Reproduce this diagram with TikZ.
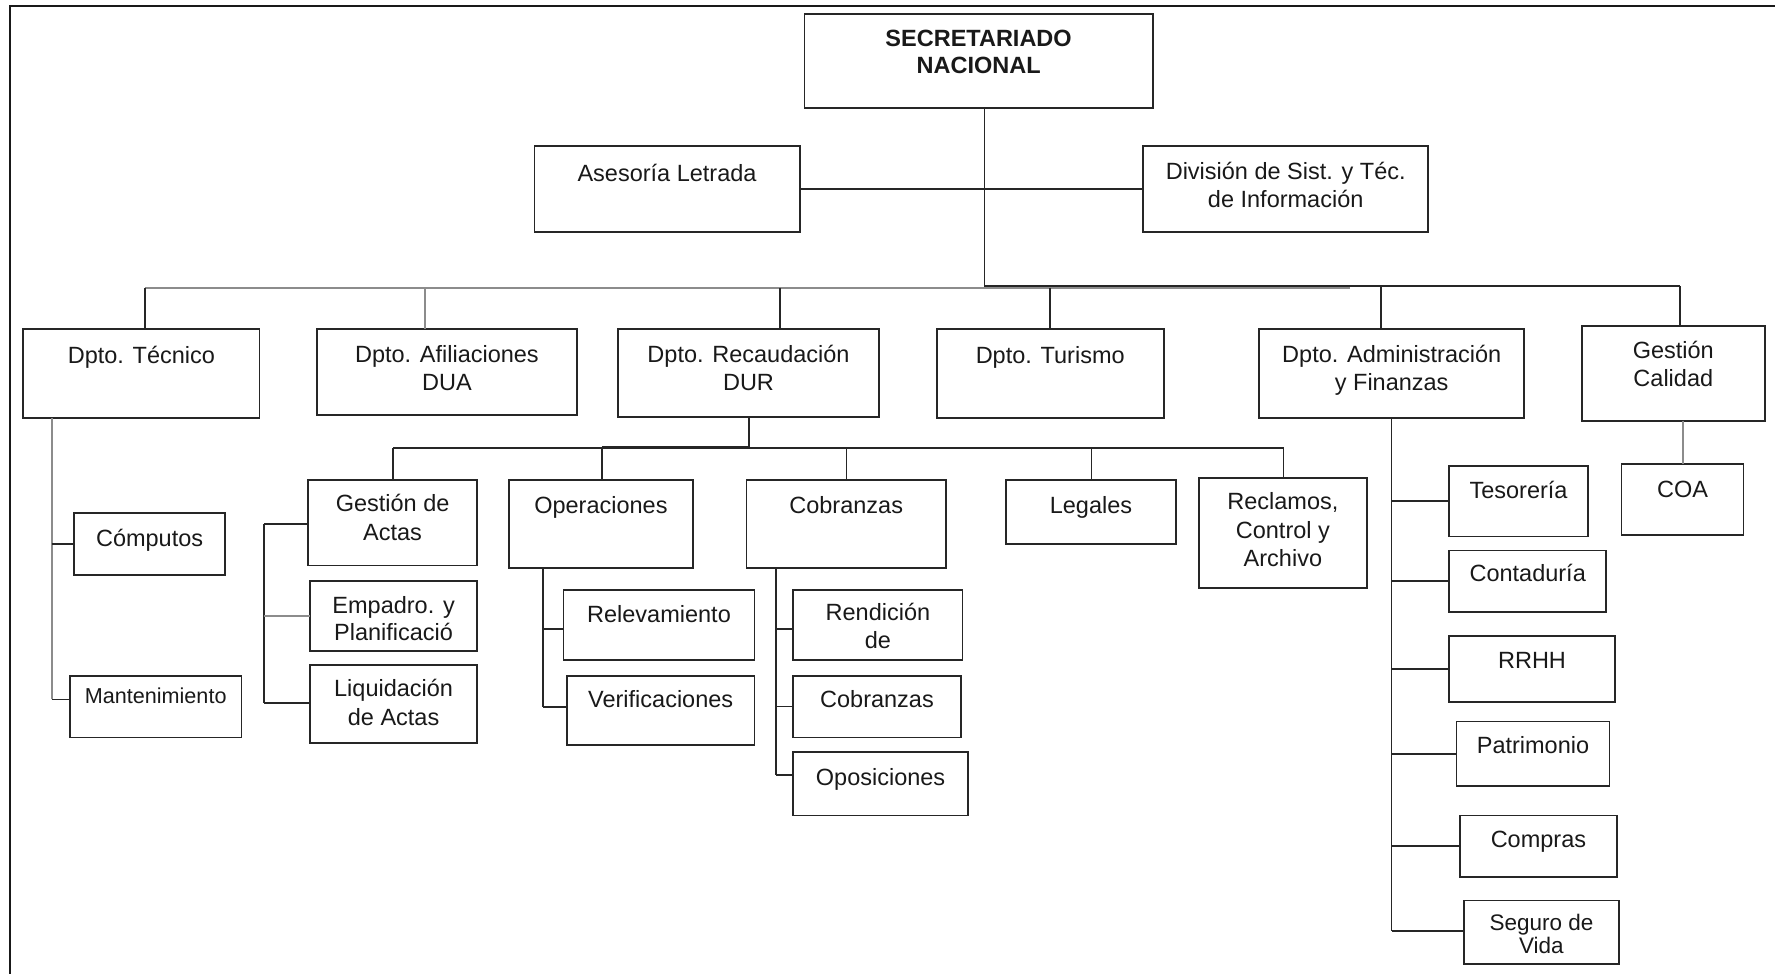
\documentclass[tikz,border=0pt]{standalone}
\usepackage{fontspec}
\setmainfont{Liberation Sans}
\definecolor{ln}{HTML}{262626}
\definecolor{lg}{HTML}{8C8C8C}
\newcommand\orgbox[5]{\node[box,anchor=north west,minimum width={(#4-#2)*1pt},minimum height={(#5-#3)*1pt}] (#1) at (#2,#3) {};}
% labels are placed by the baseline of their last line
\newcommand\orgtext[4]{\node[txt] (#1) at (#2,#3) {#4};}
\begin{document}
\begin{tikzpicture}[x=1pt,y=-1pt,
  box/.style={rectangle,draw=ln,line width=1.8pt,fill=white,inner sep=0pt,outer sep=0pt},
  txt/.style={anchor=base,align=center,inner sep=0pt,text=black!90,font=\fontsize{23.5}{28.5}\selectfont},
  conn/.style={draw=ln,line width=1.8pt},
  gconn/.style={draw=lg,line width=2pt},
  frame/.style={draw=black!90,line width=2.6pt}]
\useasboundingbox (0,0) rectangle (1775,974);
\draw[frame] (10,974) -- (10,6) -- (1775,6);

% boxes
\orgbox{sec}{804.5}{14}{1152.7}{108.3}
\orgbox{ase}{534.4}{146}{799.6}{231.7}
\orgbox{div}{1143.3}{146}{1428.2}{231.7}
\orgbox{tec}{23.3}{329.3}{259.5}{418.3}
\orgbox{afi}{317}{329.3}{576.7}{415}
\orgbox{rec}{617.9}{329.3}{879}{416.7}
\orgbox{tur}{936.6}{329.3}{1163.8}{418.3}
\orgbox{adm}{1259.2}{329.3}{1524.2}{418.3}
\orgbox{cal}{1581.6}{326}{1765}{420.7}
\orgbox{com}{74.2}{512.7}{225}{574.6}
\orgbox{man}{70}{675.6}{241.5}{737.5}
\orgbox{ges}{308}{480.2}{477.2}{565.4}
\orgbox{emp}{310}{581.2}{477.2}{650.7}
\orgbox{liq}{310}{665}{477.2}{743.3}
\orgbox{ope}{508.9}{480.2}{692.9}{567.6}
\orgbox{rel}{563.4}{590.3}{754.5}{659.9}
\orgbox{ver}{567}{675.6}{754.5}{744.8}
\orgbox{cob}{746.4}{480.2}{946}{567.6}
\orgbox{ren}{793.3}{590.3}{962.5}{659.9}
\orgbox{cobb}{793.3}{675.6}{960.7}{737.5}
\orgbox{opo}{793.3}{752.1}{967.9}{815.4}
\orgbox{leg}{1005.8}{480.2}{1176.3}{543.8}
\orgbox{recl}{1199}{478}{1366.8}{587.8}
\orgbox{tes}{1449.3}{465.9}{1587.6}{536.5}
\orgbox{cont}{1449.3}{550.4}{1606}{612.3}
\orgbox{rrhh}{1449.3}{636}{1614.7}{701.6}
\orgbox{pat}{1456.5}{721.4}{1609.5}{786.2}
\orgbox{compr}{1460}{815.4}{1616.7}{877.3}
\orgbox{seg}{1464}{900.4}{1618.7}{964}
\orgbox{coa}{1621.5}{464}{1743.5}{534.7}

% labels
\node[txt,font=\fontsize{23.5}{26.5}\selectfont\bfseries] (sec-t) at (978.6,73.5) {SECRETARIADO\\NACIONAL};
\orgtext{ase-t}{667}{181}{Asesoría Letrada}
\orgtext{div-t}{1285.7}{207.5}{División de Sist. y Téc.\\de Información}
\orgtext{tec-t}{141.4}{363}{Dpto. Técnico}
\orgtext{afi-t}{446.9}{390.5}{Dpto. Afiliaciones\\DUA}
\orgtext{rec-t}{748.5}{390.5}{Dpto. Recaudación\\DUR}
\orgtext{tur-t}{1050.2}{363}{Dpto. Turismo}
\orgtext{adm-t}{1391.7}{390.5}{Dpto. Administración\\y Finanzas}
\orgtext{cal-t}{1673.3}{386.8}{Gestión\\Calidad}
\orgtext{com-t}{149.6}{546.4}{Cómputos}
\node[txt,font=\fontsize{21.6}{26}\selectfont] (man-t) at (155.7,703.8) {Mantenimiento};
\orgtext{ges-t}{392.6}{540.1}{Gestión de\\Actas}
\node[txt,font=\fontsize{23.5}{27.5}\selectfont] (emp-t) at (393.6,640.5) {Empadro. y\\Planificació};
\orgtext{liq-t}{393.6}{725}{Liquidación\\de Actas}
\orgtext{ope-t}{600.9}{513.5}{Operaciones}
\orgtext{rel-t}{659}{622.2}{Relevamiento}
\orgtext{ver-t}{660.7}{707.5}{Verificaciones}
\orgtext{cob-t}{846.2}{513.5}{Cobranzas}
\orgtext{ren-t}{877.9}{648.8}{Rendición\\de}
\orgtext{cobb-t}{877}{707.5}{Cobranzas}
\orgtext{opo-t}{880.6}{785}{Oposiciones}
\orgtext{leg-t}{1091}{513.5}{Legales}
\orgtext{recl-t}{1282.9}{566.8}{Reclamos,\\Control y\\Archivo}
\orgtext{tes-t}{1518.5}{498.1}{Tesorería}
\orgtext{cont-t}{1527.7}{581.2}{Contaduría}
\orgtext{rrhh-t}{1532}{668.3}{RRHH}
\orgtext{pat-t}{1533}{753.2}{Patrimonio}
\orgtext{compr-t}{1538.4}{847.6}{Compras}
\node[txt,font=\fontsize{22.5}{22.7}\selectfont] (seg-t) at (1541.4,953.4) {Seguro de\\Vida};
\orgtext{coa-t}{1682.5}{497.7}{COA}

% top level
\coordinate (busM) at (984.4,286);
\coordinate (busR) at (1680,286);
\coordinate (busG1) at (145,287.5);
\coordinate (busG2) at (1350,287.5);
\draw[conn] (busM |- sec.south) -- (busM);
\draw[conn] (ase.east) -- (div.west);
\draw[gconn] (busG1) -- (busG2);
\draw[conn] (busM) -- (busR);

% departments
\coordinate (tAfi) at (424.8,287.5);
\coordinate (tRec) at (780,287.5);
\coordinate (tTur) at (1049.6,287.5);
\coordinate (tAdm) at (1381.2,286);
\draw[conn] (busG1) -- (busG1 |- tec.north);
\draw[gconn] (tAfi) -- (tAfi |- afi.north);
\draw[conn] (tRec) -- (tRec |- rec.north);
\draw[conn] (tTur) -- (tTur |- tur.north);
\draw[conn] (tAdm) -- (tAdm |- adm.north);
\draw[conn] (busR) -- (busR |- cal.north);

% Dpto. Tecnico
\coordinate (tecV) at (51.7,699.4);
\draw[gconn] (tecV |- tec.south) -- (tecV);
\draw[conn] (tecV |- com.west) -- (com.west);
\draw[conn] (tecV) -- (tecV -| man.west);

% Dpto. Recaudacion
\coordinate (sbL) at (393,447.7);
\coordinate (sbR) at (1283.5,447.7);
\coordinate (sbRec) at (748.7,447.7);
\coordinate (sbOpe) at (601.8,447.7);
\coordinate (sbCob) at (846.4,447.7);
\coordinate (sbLeg) at (1091.5,447.7);
\draw[conn] (sbRec |- rec.south) -- (sbRec);
\draw[conn] (sbL) -- (sbR);
\draw[conn,line width=3.4pt,yshift=-0.8pt] (sbOpe) -- (sbRec);
\draw[conn] (sbL) -- (sbL |- ges.north);
\draw[conn] (sbOpe) -- (sbOpe |- ope.north);
\draw[conn] (sbCob) -- (sbCob |- cob.north);
\draw[conn] (sbLeg) -- (sbLeg |- leg.north);
\draw[conn] (sbR) -- (sbR |- recl.north);

% Gestion de Actas
\coordinate (gV1) at (264,523.7);
\coordinate (gV2) at (264,703);
\draw[conn] (gV1) -- (gV2);
\draw[conn] (gV1) -- (gV1 -| ges.west);
\draw[gconn] (gV1 |- emp.west) -- (emp.west);
\draw[conn] (gV2) -- (gV2 -| liq.west);

% Operaciones
\coordinate (oV) at (543.3,706.7);
\draw[conn] (oV |- ope.south) -- (oV);
\draw[conn] (oV |- 0,628.8) -- (rel.west |- 0,628.8);
\draw[conn] (oV) -- (oV -| ver.west);

% Cobranzas
\coordinate (cV) at (775.9,775.2);
\draw[conn] (cV |- cob.south) -- (cV);
\draw[conn] (cV |- 0,628.8) -- (ren.west |- 0,628.8);
\draw[conn] (cV |- cobb.west) -- (cobb.west);
\draw[conn] (cV) -- (cV -| opo.west);

% Administracion y Finanzas
\coordinate (aV) at (1391.5,930.7);
\draw[conn] (aV |- adm.south) -- (aV);
\draw[conn] (aV |- tes.west) -- (tes.west);
\draw[conn] (aV |- cont.west) -- (cont.west);
\draw[conn] (aV |- rrhh.west) -- (rrhh.west);
\draw[conn] (aV |- pat.west) -- (pat.west);
\draw[conn] (aV |- compr.west) -- (compr.west);
\draw[conn] (aV) -- (aV -| seg.west);

% Gestion Calidad
\draw[gconn] (coa.north |- cal.south) -- (coa.north);
\end{tikzpicture}
\end{document}
